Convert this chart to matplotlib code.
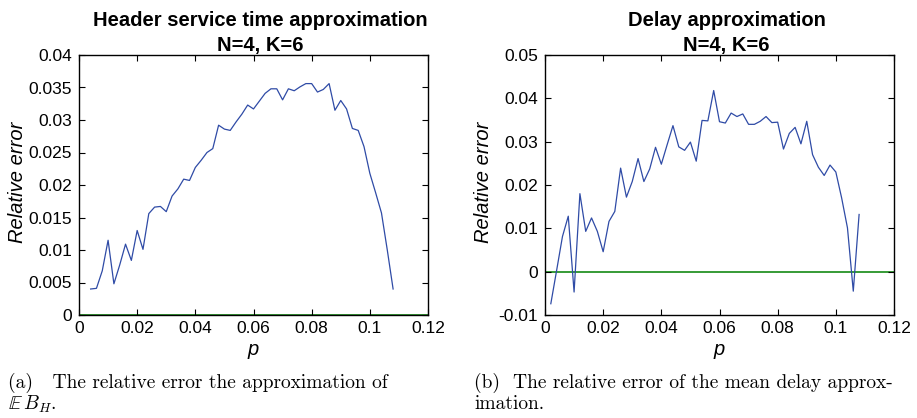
import matplotlib
matplotlib.use("Agg")
import matplotlib.pyplot as plt
from matplotlib.ticker import FuncFormatter

plt.rcParams['font.family'] = ['Liberation Sans', 'DejaVu Sans']
plt.rcParams['mathtext.fontset'] = 'cm'

# Header service time approximation (left panel)
p_header = [0.004, 0.006, 0.008, 0.010, 0.012, 0.014, 0.016, 0.018, 0.020, 0.022,
            0.024, 0.026, 0.028, 0.030, 0.032, 0.034, 0.036, 0.038, 0.040, 0.042,
            0.044, 0.046, 0.048, 0.050, 0.052, 0.054, 0.056, 0.058, 0.060, 0.062,
            0.064, 0.066, 0.068, 0.070, 0.072, 0.074, 0.076, 0.078, 0.080, 0.082,
            0.084, 0.086, 0.088, 0.090, 0.092, 0.094, 0.096, 0.098, 0.100, 0.102,
            0.104, 0.106, 0.108]
err_header = [0.0040, 0.0041, 0.0068, 0.0115, 0.0048, 0.0077, 0.0109, 0.0084, 0.0130, 0.0101,
              0.0156, 0.0166, 0.0167, 0.0159, 0.0183, 0.0194, 0.0209, 0.0207, 0.0227, 0.0238,
              0.0250, 0.0256, 0.0292, 0.0286, 0.0284, 0.0297, 0.0309, 0.0323, 0.0317, 0.0329,
              0.0341, 0.0348, 0.0348, 0.0331, 0.0348, 0.0345, 0.0351, 0.0356, 0.0356, 0.0343,
              0.0347, 0.0356, 0.0315, 0.0330, 0.0317, 0.0287, 0.0284, 0.0259, 0.0218, 0.0188,
              0.0157, 0.0100, 0.0040]

# Mean delay approximation (right panel)
p_delay = [0.002, 0.004, 0.006, 0.008, 0.010, 0.012, 0.014, 0.016, 0.018, 0.020,
           0.022, 0.024, 0.026, 0.028, 0.030, 0.032, 0.034, 0.036, 0.038, 0.040,
           0.042, 0.044, 0.046, 0.048, 0.050, 0.052, 0.054, 0.056, 0.058, 0.060,
           0.062, 0.064, 0.066, 0.068, 0.070, 0.072, 0.074, 0.076, 0.078, 0.080,
           0.082, 0.084, 0.086, 0.088, 0.090, 0.092, 0.094, 0.096, 0.098, 0.100,
           0.102, 0.104, 0.106, 0.108]
err_delay = [-0.0074, 0.0003, 0.0081, 0.0128, -0.0047, 0.0180, 0.0093, 0.0124, 0.0093, 0.0046,
             0.0116, 0.0139, 0.0239, 0.0172, 0.0208, 0.0261, 0.0208, 0.0237, 0.0287, 0.0248,
             0.0293, 0.0337, 0.0288, 0.0280, 0.0299, 0.0255, 0.0349, 0.0348, 0.0418, 0.0346,
             0.0343, 0.0366, 0.0358, 0.0364, 0.0340, 0.0340, 0.0347, 0.0358, 0.0344, 0.0345,
             0.0283, 0.0319, 0.0333, 0.0295, 0.0347, 0.0270, 0.0241, 0.0222, 0.0246, 0.0230,
             0.0170, 0.0101, -0.0045, 0.0132]

x_ticks = [0, 0.02, 0.04, 0.06, 0.08, 0.1, 0.12]
y_ticks_header = [0, 0.005, 0.01, 0.015, 0.02, 0.025, 0.03, 0.035, 0.04]
y_ticks_delay = [-0.01, 0, 0.01, 0.02, 0.03, 0.04, 0.05]

LINE_BLUE = '#2f4ba6'
ZERO_GREEN = (0, 0.5, 0)

fig = plt.figure(figsize=(9.17, 4.18), dpi=100)
W, H = 917, 418

def make_axes(x0):
    return fig.add_axes([x0 / W, 1 - 315 / H, 349 / W, 260 / H])

fmt = FuncFormatter(lambda v, pos: '%g' % round(v, 4))

panels = [
    (make_axes(79), p_header, err_header, y_ticks_header,
     "Header service time approximation\nN=4, K=6"),
    (make_axes(545), p_delay, err_delay, y_ticks_delay,
     "Delay approximation\nN=4, K=6"),
]

for ax, xs, ys, yt, title in panels:
    ax.axhline(0, color=ZERO_GREEN, lw=1.1, zorder=1)
    ax.plot(xs, ys, color=LINE_BLUE, lw=0.9, zorder=2)
    ax.set_xlim(0, 0.12)
    ax.set_ylim(yt[0], yt[-1])
    ax.set_xticks(x_ticks)
    ax.set_yticks(yt)
    ax.xaxis.set_major_formatter(fmt)
    ax.yaxis.set_major_formatter(fmt)
    ax.tick_params(direction='in', top=True, right=True, length=4,
                   width=0.8, labelsize=12.5)
    ax.tick_params(axis='y', pad=5)
    ax.tick_params(axis='x', pad=4)
    for sp in ax.spines.values():
        sp.set_linewidth(1.0)
    ax.set_xlabel("p", fontsize=14.5, style='italic', labelpad=3)
    ax.set_ylabel("Relative error", fontsize=14.5, style='italic')
    ax.yaxis.set_label_coords(-0.15, 0.51)
    ax.set_title(title, fontsize=14.5, fontweight='bold', x=0.52, pad=3,
                 linespacing=1.4)

# captions under the panels
cap = dict(family='cmr10', fontsize=14, va='center', ha='left')
fig.text(8 / W, 1 - 383 / H, "(a)   The relative error the approximation of", **cap)
fig.text(8 / W, 1 - 404 / H, r"$\mathbb{E}\,B_H$.", **cap)
fig.text(474 / W, 1 - 383 / H, "(b)  The relative error of the mean delay approx-", **cap)
fig.text(474 / W, 1 - 404 / H, "imation.", **cap)

fig.savefig("out.png", dpi=100)
